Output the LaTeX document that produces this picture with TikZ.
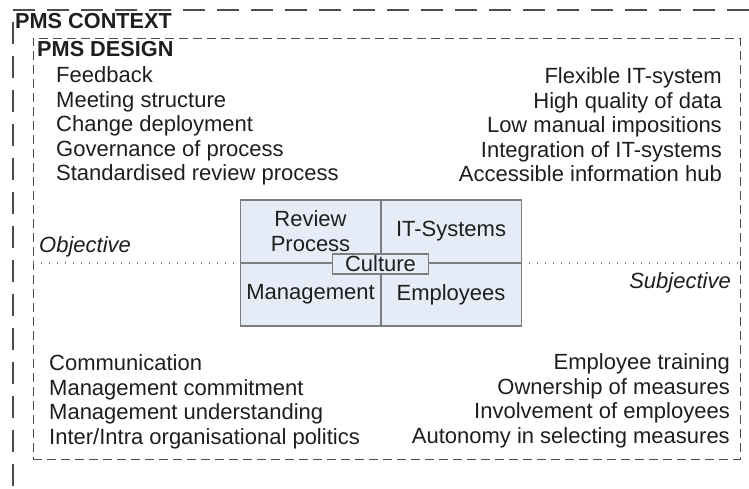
\documentclass[tikz,border=0pt]{standalone}
\usepackage{fontspec}
\setmainfont{Liberation Sans}
\usetikzlibrary{positioning}
\definecolor{cellfill}{RGB}{230,236,247}
\definecolor{cellline}{RGB}{125,125,125}
\definecolor{txt}{RGB}{30,30,30}
\tikzset{
    ctxline/.style={draw=black!70, line width=1.3pt, dash pattern=on 22pt off 12pt},
    designbox/.style={draw=black!70, line width=1pt, dash pattern=on 9pt off 5pt, minimum width=707pt, minimum height=421pt, inner sep=0pt},
    title/.style={font=\fontsize{21.7}{24.5}\selectfont\bfseries, text=txt, inner sep=0pt},
    item/.style={font=\fontsize{22}{24.5}\selectfont, text=txt, inner sep=0pt},
    side/.style={font=\fontsize{22}{24.5}\selectfont\itshape, text=txt, inner sep=0pt},
    cell/.style={draw=cellline, fill=cellfill, line width=1.5pt, minimum width=140.5pt, minimum height=63pt, inner sep=0pt, outer sep=0pt, align=center, font=\fontsize{22}{25}\selectfont, text=txt},
    core/.style={draw=cellline, fill=cellfill, line width=1.5pt, minimum width=96pt, minimum height=20pt, inner sep=0pt, font=\fontsize{22}{25}\selectfont, text=txt},
    divline/.style={draw=black!50, line width=1.2pt, dash pattern=on 1.2pt off 6.8pt},
    node distance=0pt
}
\begin{document}
\begin{tikzpicture}[x=1pt,y=-1pt]
			\useasboundingbox (0,0) rectangle (749,488);
			% context frame, open to the right and below
			\coordinate (ctxNE) at (749,10);
			\coordinate (ctxSW) at (13,488);
			\draw[ctxline] (ctxNE) -- (ctxNE -| ctxSW) -- (ctxSW);
			\node[title, anchor=west] (ctx) at (15,21) {PMS CONTEXT};

			% design frame
			\node[designbox] (design) at (386.5,248.5) {};
			\node[title, anchor=west] (dsg) at (37,49) {PMS DESIGN};

			\node[item, anchor=west, align=left] (objtop) at (56,126) {Feedback\\Meeting structure\\Change deployment\\Governance of process\\Standardised review process};
			\node[item, anchor=east, align=right] (subtop) at (722,125) {Flexible IT-system\\High quality of data\\Low manual impositions\\Integration of IT-systems\\Accessible information hub};
			\node[item, anchor=west, align=left] (objbot) at (49,402) {Communication\\Management commitment\\Management understanding\\Inter/Intra organisational politics};
			\node[item, anchor=east, align=right] (subbot) at (730,401) {Employee training\\Ownership of measures\\Involvement of employees\\Autonomy in selecting measures};

			% the four cells
			\node[cell] (rev) at (310.5,231.5) {Review\\Process};
			\node[cell, right=of rev] (its) {IT-Systems};
			\node[cell, below=of rev] (man) {Management};
			\node[cell, right=of man] (emp) {Employees};
			\node[core] (cul) at (380.5,264) {Culture};

			\draw[divline] (rev.south west -| design.west) -- (rev.south west);
			\draw[divline] (its.south east) -- (its.south east -| design.east);
			\node[side, anchor=west] (obj) at (39,247) {Objective};
			\node[side, anchor=east] (sbj) at (731,283) {Subjective};
		\end{tikzpicture}
\end{document}
